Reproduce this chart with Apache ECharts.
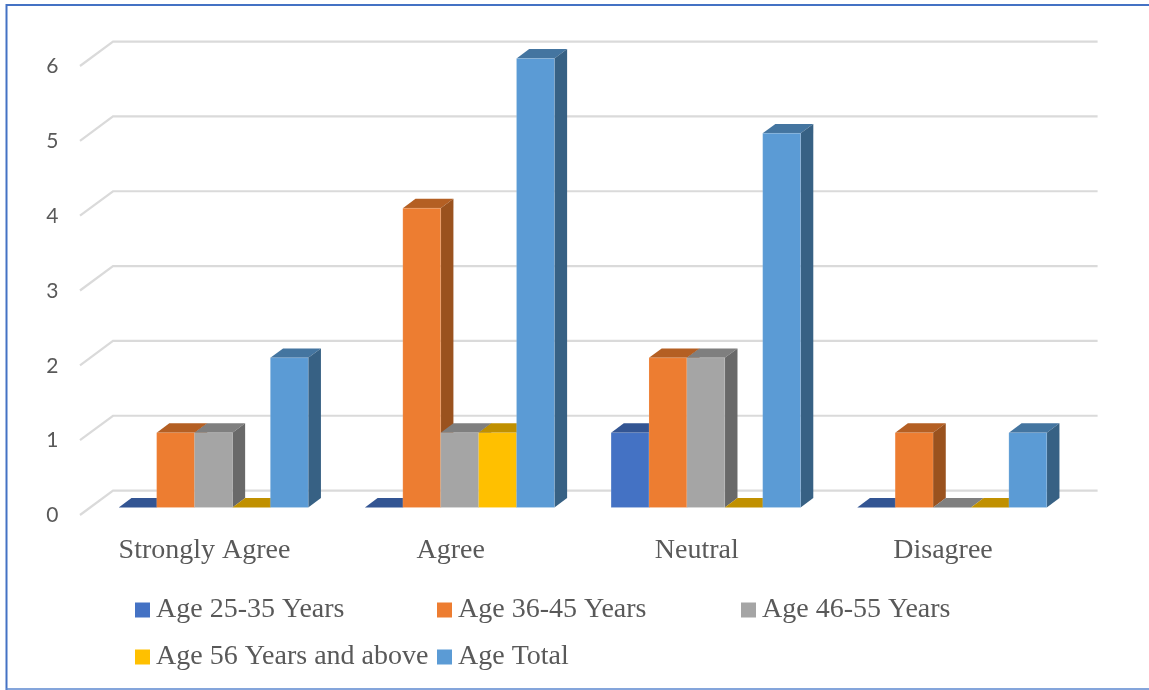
<!DOCTYPE html>
<html><head><meta charset="utf-8">
<style>html,body{margin:0;padding:0;background:#fff}#c{width:1149px;height:690px}</style>
<script src="https://cdn.jsdelivr.net/npm/echarts@6/dist/echarts.min.js"></script>
</head><body><div id="c"></div>
<script>
const categories = ['Strongly Agree', 'Agree', 'Neutral', 'Disagree'];
const age2535 = [0, 0, 1, 0];
const age3645 = [1, 4, 2, 1];
const age4655 = [1, 1, 2, 0];
const age56up = [0, 1, 0, 0];
const ageTotal = [2, 6, 5, 1];
const yTicks = [0, 1, 2, 3, 4, 5, 6];
const seriesNames = ['Age 25-35 Years', 'Age 36-45 Years', 'Age 46-55 Years', 'Age 56 Years and above', 'Age Total'];
const seriesValues = [age2535, age3645, age4655, age56up, ageTotal];
const faceColors = [
  {front:'#4472C4', top:'#335593', side:'#2A4A82'},
  {front:'#ED7D31', top:'#B45F23', side:'#9A521E'},
  {front:'#A5A5A5', top:'#7F7F7F', side:'#696969'},
  {front:'#FFC000', top:'#C09000', side:'#A67C00'},
  {front:'#5B9BD5', top:'#4475A0', side:'#376184'}
];
const legendPos = [[130,591],[432,591],[736,591],[130,638],[432,638]];
const BW = 37.9, DX = 12.7, DY = 9.4, SHIFT = 9;
const edge = 'rgba(255,255,255,0.12)';

function barRenderer(si){
  return function(params, api){
    const idx = api.value(0), val = api.value(1);
    const base = api.coord([idx, 0]), top = api.coord([idx, val]);
    const x0 = base[0] + SHIFT + (si - 2.5) * BW, x1 = x0 + BW;
    const yb = base[1], yt = top[1];
    const c = faceColors[si];
    const children = [];
    children.push({type:'polygon', shape:{points:[[x0,yt],[x0+DX,yt-DY],[x1+DX,yt-DY],[x1,yt]]}, style:{fill:c.top}});
    if (val > 0) {
      children.push({type:'polygon', shape:{points:[[x1,yb],[x1+DX,yb-DY],[x1+DX,yt-DY],[x1,yt]]}, style:{fill:c.side}});
      children.push({type:'rect', shape:{x:x0,y:yt,width:BW,height:yb-yt}, style:{fill:c.front, stroke:edge, lineWidth:1}});
    }
    return {type:'group', children};
  };
}
function gridRenderer(params, api){
  const p = api.coord([0, api.value(0)]);
  const left = params.coordSys.x - 1.4, right = params.coordSys.x + params.coordSys.width + 31.5;
  return {type:'polyline', shape:{points:[[left,p[1]+7.5],[left+33,p[1]-16.9],[right,p[1]-16.9]]},
    style:{fill:null, stroke:'#DADADA', lineWidth:2.2}};
}

const chart = echarts.init(document.getElementById('c'), null, {renderer:'canvas'});
chart.setOption({
  backgroundColor:'#fff',
  animation:false,
  grid:{left:81.4, width:984.7, top:58.5, height:449},
  xAxis:{type:'category', data:categories, axisLine:{show:false}, axisTick:{show:false}, splitLine:{show:false},
    axisLabel:{margin:29, fontFamily:'Liberation Serif', fontSize:28, color:'#595959'}},
  yAxis:{type:'value', min:0, max:6, interval:1, axisLine:{show:false}, axisTick:{show:false}, splitLine:{show:false},
    axisLabel:{margin:23, fontFamily:'Lato', fontSize:21, color:'#595959', verticalAlign:'top', lineHeight:16}},
  legend: seriesNames.map((n,i)=>({
    data:[n], left:legendPos[i][0], top:legendPos[i][1], itemWidth:15, itemHeight:15, itemGap:0,
    icon:'rect', selectedMode:false,
    textStyle:{fontFamily:'Liberation Serif', fontSize:28, color:'#595959', padding:[0,0,0,1]}
  })),
  series:[
    {type:'custom', name:'gridlines', data:yTicks.map(v=>[v]), encode:{y:0}, renderItem:gridRenderer, z:1, silent:true}
  ].concat(seriesNames.map((n,i)=>({
    type:'custom', name:n, z:2+i, legendIcon:'rect', itemStyle:{color:faceColors[i].front},
    data:seriesValues[i].map((v,k)=>[k,v]), encode:{x:0,y:1}, renderItem:barRenderer(i)
  }))),
  graphic:[
    {type:'line', shape:{x1:6.5,y1:5,x2:1149,y2:5}, style:{stroke:'#4472C4',lineWidth:2}, silent:true},
    {type:'line', shape:{x1:6.5,y1:4,x2:6.5,y2:690}, style:{stroke:'#4472C4',lineWidth:2}, silent:true},
    {type:'line', shape:{x1:6,y1:689,x2:1149,y2:689}, style:{stroke:'#5B87CF',lineWidth:1.5}, silent:true}
  ]
});
</script></body></html>
